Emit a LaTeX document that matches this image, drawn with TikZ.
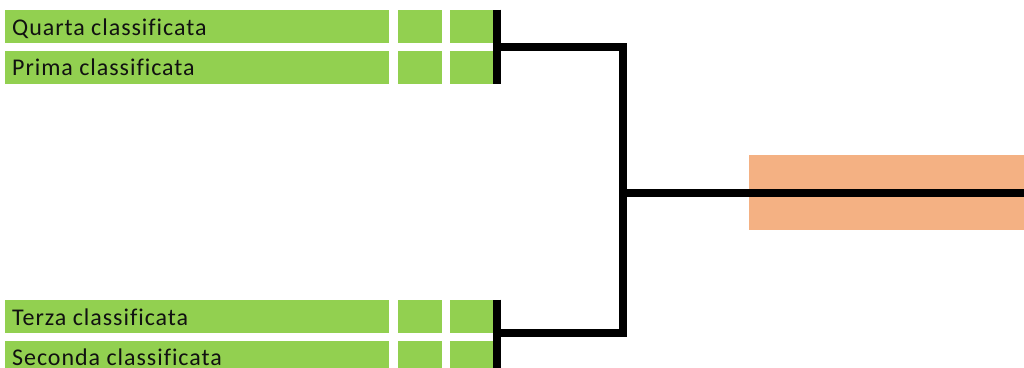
\documentclass[tikz,border=0pt]{standalone}
\usepackage{fontspec}
\setmainfont[Ligatures=NoCommon,LetterSpace=4]{Carlito}
\usetikzlibrary{calc}
\definecolor{boxgreen}{HTML}{92D050}
\definecolor{boxorange}{HTML}{F4B183}
\definecolor{txt}{HTML}{111111}
\tikzset{
  cell/.style={fill=boxgreen, draw=none, inner sep=0pt, anchor=north west, minimum height=33pt},
  namecell/.style={cell, minimum width=384pt},
  scorecell/.style={cell, minimum width=43.5pt},
  lbl/.style={anchor=base west, inner sep=0pt, text=txt, font=\fontsize{24}{28}\selectfont},
  bracket/.style={line width=8pt, draw=black, line cap=butt, line join=miter},
  winner/.style={fill=boxorange, draw=none, inner sep=0pt, anchor=north west, minimum width=276pt, minimum height=75pt}
}
\begin{document}
\begin{tikzpicture}[x=1pt,y=-1pt]
\useasboundingbox (0,0) rectangle (1024,367);
\clip (0,0) rectangle (1024,367);
% rows
\foreach \r/\y in {1/9.5,2/51,3/299.5,4/341}{
  \node[namecell]  (n\r) at (5,\y) {};
  \node[scorecell] (a\r) at (398,\y) {};
  \node[scorecell] (b\r) at (449.5,\y) {};
}
\node[lbl] (t1) at (12,35.5) {Quarta classificata};
\node[lbl] (t2) at (12,75.5) {Prima classificata};
\node[lbl] (t3) at (12,325.5) {Terza classificata};
\node[lbl] (t4) at (12,365.5) {Seconda classificata};
% winner box
\node[winner] (w) at (748.5,154.5) {};
% bracket coordinates
\coordinate (top1) at ([xshift=4pt]b1.north east);
\coordinate (top2) at ([xshift=4pt]b2.south east);
\coordinate (bot1) at ([xshift=4pt]b3.north east);
\coordinate (bot2) at ([xshift=4pt]b4.south east);
\coordinate (jt) at ($(top1)!0.5!(top2)$);
\coordinate (jb) at ($(bot1)!0.5!(bot2)+(0,-3.5)$);
\coordinate (mx) at (623,0);
\coordinate (jm) at (623,192.5);
\coordinate (endr) at (1030,192.5);
\draw[bracket] (top1) -- (top2);
\draw[bracket] (bot1) -- (bot2);
\draw[bracket] (jt) -| (mx |- jb) -- (jb);
\draw[bracket] (jm) -- (endr);
\end{tikzpicture}
\end{document}
